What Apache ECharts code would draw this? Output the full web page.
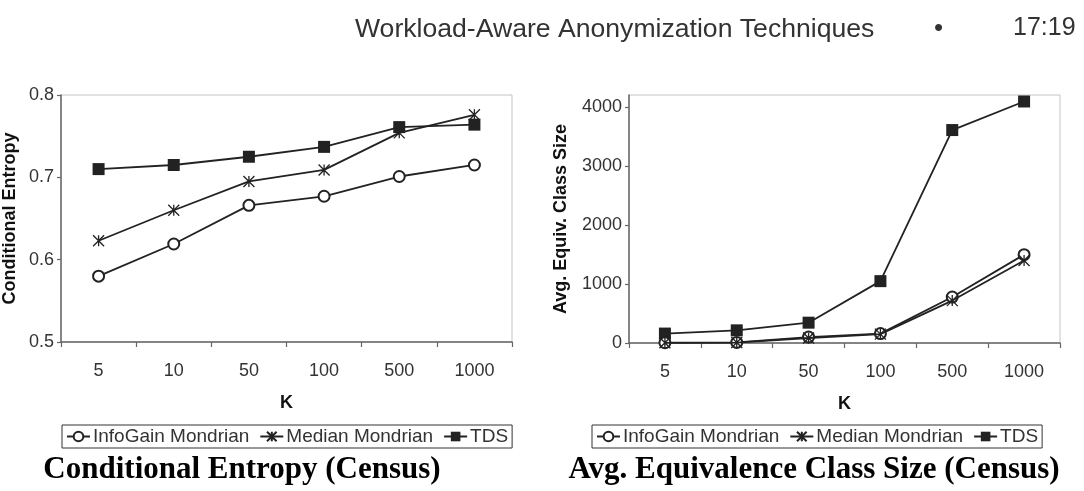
<!DOCTYPE html>
<html>
<head>
<meta charset="utf-8">
<script src="https://cdn.jsdelivr.net/npm/echarts@6/dist/echarts.min.js"></script>
<style>
html,body{margin:0;padding:0;background:#fff;}
#c{width:1084px;height:491px;}
</style>
</head>
<body>
<div id="c"></div>
<script>
// ---- data ----
const categories = ['5', '10', '50', '100', '500', '1000'];
const seriesNames = ['InfoGain Mondrian', 'Median Mondrian', 'TDS'];

const entropyInfoGain = [0.580, 0.619, 0.666, 0.677, 0.701, 0.715];
const entropyMedian   = [0.623, 0.660, 0.695, 0.709, 0.754, 0.776];
const entropyTDS      = [0.710, 0.715, 0.725, 0.737, 0.761, 0.764];

const classInfoGain = [5, 10, 100, 160, 780, 1500];
const classMedian   = [3, 8, 85, 150, 720, 1400];
const classTDS      = [160, 215, 345, 1050, 3615, 4100];

const entropyTicks = [0.5, 0.6, 0.7, 0.8];
const classTicks = [0, 1000, 2000, 3000, 4000];

const headerText = 'Workload-Aware Anonymization Techniques';
const pageText = '17:19';
const leftTitle = 'Conditional Entropy (Census)';
const rightTitle = 'Avg. Equivalence Class Size (Census)';
const leftYName = 'Conditional Entropy';
const rightYName = 'Avg. Equiv. Class Size';
const xName = 'K';

// ---- styling ----
const INK = '#222';
const TXT = '#333';
const SANS = '"Liberation Sans", Arial, sans-serif';
const SERIF = '"Liberation Serif", "Times New Roman", serif';
const asterisk = 'path://M0,0L10,10M10,0L0,10M5,0L5,10';

function seriesSet(idx, a, b, c) {
  const base = {
    type: 'line', xAxisIndex: idx, yAxisIndex: idx,
    lineStyle: {color: INK, width: 1.8},
    emphasis: {disabled: true},
    z: 3
  };
  return [
    Object.assign({}, base, {
      name: seriesNames[0], data: a, symbol: 'emptyCircle', symbolSize: 11,
      itemStyle: {color: INK, borderColor: INK, borderWidth: 1.2}, z: 4
    }),
    Object.assign({}, base, {
      name: seriesNames[1], data: b, symbol: asterisk, symbolSize: 11,
      itemStyle: {color: 'transparent', borderColor: INK, borderWidth: 1.3}, z: 5
    }),
    Object.assign({}, base, {
      name: seriesNames[2], data: c, symbol: 'rect', symbolSize: 12,
      itemStyle: {color: INK, borderColor: INK, borderWidth: 0}, z: 3
    })
  ];
}

function xAxisDef(idx) {
  return {
    type: 'category', gridIndex: idx, data: categories, boundaryGap: true,
    axisLine: {show: true, lineStyle: {color: '#666', width: 1.5}},
    axisTick: {show: true, alignWithLabel: false, length: 5, lineStyle: {color: '#666', width: 1.2}},
    axisLabel: {color: TXT, fontFamily: SANS, fontSize: 18, margin: 20},
    name: xName, nameLocation: 'middle', nameGap: 52,
    nameTextStyle: {color: '#111', fontFamily: SANS, fontSize: 18, fontWeight: 'bold'},
    splitLine: {show: false}
  };
}

function yAxisDef(idx, min, max, interval, ticks, name, gap) {
  return {
    type: 'value', gridIndex: idx, min: min, max: max, interval: interval,
    axisLine: {show: true, lineStyle: {color: '#666', width: 1.5}},
    axisTick: {show: true, length: 4, customValues: ticks, lineStyle: {color: '#666', width: 1.2}},
    axisLabel: {color: TXT, fontFamily: SANS, fontSize: 18, margin: 7, customValues: ticks,
      formatter: function (v) { return String(Math.round(v * 1000) / 1000); }},
    splitLine: {show: false},
    name: name, nameLocation: 'middle', nameGap: gap, nameRotate: 90,
    nameTextStyle: {color: '#111', fontFamily: SANS, fontSize: 18, fontWeight: 'bold'}
  };
}

function legendDef(left) {
  return {
    left: left, top: 425, orient: 'horizontal',
    data: seriesNames,
    itemWidth: 23, itemHeight: 12, itemGap: 10,
    borderColor: '#333', borderWidth: 1, padding: [2, 4],
    textStyle: {color: TXT, fontFamily: SANS, fontSize: 19, padding: [0, 0, 0, -2]},
    selectedMode: false
  };
}

const chart = echarts.init(document.getElementById('c'), null, {renderer: 'canvas'});
chart.setOption({
  animation: false,
  backgroundColor: '#fff',
  grid: [
    {left: 60, right: 572, top: 95, bottom: 149, show: true, borderColor: '#c4c4c4', borderWidth: 1, backgroundColor: '#fff'},
    {left: 629, right: 24, top: 95, bottom: 148, show: true, borderColor: '#c4c4c4', borderWidth: 1, backgroundColor: '#fff'}
  ],
  xAxis: [xAxisDef(0), xAxisDef(1)],
  yAxis: [
    yAxisDef(0, 0.5, 0.8, 0.1, entropyTicks, leftYName, 42),
    yAxisDef(1, 0, 4210, 1000, classTicks, rightYName, 59)
  ],
  legend: [legendDef(62), legendDef(592)],
  series: seriesSet(0, entropyInfoGain, entropyMedian, entropyTDS)
    .concat(seriesSet(1, classInfoGain, classMedian, classTDS)),
  graphic: [
    {type: 'text', left: 355, top: 16, style: {text: headerText, font: '26.6px ' + SANS, fill: TXT}},
    {type: 'text', left: 934, top: 16, style: {text: '\u2022', font: '26px ' + SANS, fill: TXT}},
    {type: 'text', left: 1013, top: 16, style: {text: pageText, font: '25px ' + SANS, fill: TXT}},
    {type: 'text', x: 242, y: 470, style: {text: leftTitle, font: 'bold 31px ' + SERIF, fill: '#000', textAlign: 'center', textVerticalAlign: 'middle'}},
    {type: 'text', x: 814, y: 470, style: {text: rightTitle, font: 'bold 31px ' + SERIF, fill: '#000', textAlign: 'center', textVerticalAlign: 'middle'}}
  ]
});
</script>
</body>
</html>
